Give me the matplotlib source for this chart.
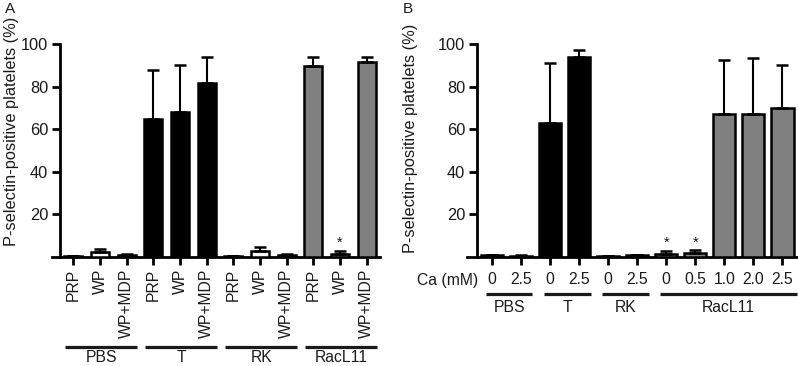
import numpy as np
import matplotlib.pyplot as plt
from matplotlib.transforms import blended_transform_factory

plt.rcParams['font.family'] = ['Liberation Sans', 'DejaVu Sans']
plt.rcParams['text.color'] = '#1a1a1a'

# panel A data
labels_a = ['PRP', 'WP', 'WP+MDP'] * 4
means_a = [0.3, 2.3, 1.0, 65, 68, 81.5, 0.3, 3.0, 1.0, 89.5, 1.5, 91.5]
errs_a = [0.0, 1.5, 0.6, 23, 22, 12.3, 0.0, 1.7, 0.6, 4.5, 1.5, 2.5]
groups_a = ['PBS', 'T', 'RK', 'RacL11']
group_idx_a = [(0, 2), (3, 5), (6, 8), (9, 11)]
colors_a = ['white'] * 3 + ['black'] * 3 + ['white'] * 3 + ['#808080'] * 3
stars_a = [10]

# panel B data
labels_b = ['0', '2.5', '0', '2.5', '0', '2.5', '0', '0.5', '1.0', '2.0', '2.5']
means_b = [0.8, 0.6, 62.9, 94, 0.4, 0.8, 1.5, 1.8, 67.1, 67.1, 70]
errs_b = [0.3, 0.2, 28.2, 3.4, 0.2, 0.3, 1.5, 1.5, 25.4, 26.4, 20]
groups_b = ['PBS', 'T', 'RK', 'RacL11']
group_idx_b = [(0, 1), (2, 3), (4, 5), (6, 10)]
colors_b = ['white'] * 2 + ['black'] * 2 + ['white'] * 2 + ['#808080'] * 5
stars_b = [6, 7]

FS = 11.8

fig = plt.figure(figsize=(7.98, 3.66), dpi=100)
axA = fig.add_axes([52 / 798, 1 - 257 / 366, 328 / 798, 213 / 366])
axB = fig.add_axes([466.7 / 798, 1 - 257 / 366, 330.3 / 798, 213 / 366])


def style(ax, xlim):
    ax.set_xlim(*xlim)
    ax.set_ylim(0, 100)
    ax.spines['top'].set_visible(False)
    ax.spines['right'].set_visible(False)
    ax.spines['left'].set_position(('data', -0.5))
    ax.spines['left'].set_linewidth(2)
    ax.spines['bottom'].set_linewidth(2)
    ax.set_yticks([20, 40, 60, 80, 100])
    ax.tick_params(axis='both', width=2, length=5.5, labelsize=FS, color='black',
                   labelcolor='#1a1a1a')
    ax.tick_params(axis='y', pad=3)


def draw(ax, means, errs, colors, width, stars):
    x = np.arange(len(means))
    ax.bar(x, means, width=width, color=colors, edgecolor='black', linewidth=1.8, zorder=3)
    ax.errorbar(x, means, yerr=[np.zeros(len(errs)), errs], fmt='none', ecolor='black',
                elinewidth=1.5, capsize=4.3, capthick=1.8, zorder=4)
    for s in stars:
        ax.text(s, 6.5, '*', ha='center', va='center', fontsize=10.5)


# panel A
style(axA, (-0.8, 11.5))
draw(axA, means_a, errs_a, colors_a, 0.68, stars_a)
axA.set_xticks(np.arange(len(labels_a)))
axA.set_xticklabels(labels_a, rotation=90, va='top', fontsize=11.3)
axA.tick_params(axis='x', pad=3)
trA = blended_transform_factory(axA.transData, axA.transAxes)
for name, (i0, i1) in zip(groups_a, group_idx_a):
    axA.plot([i0 - 0.3, i1 + 0.4], [-0.421, -0.421], color='#1a1a1a', lw=2.3,
             transform=trA, clip_on=False, solid_capstyle='butt')
    axA.text((i0 + i1) / 2 + 0.05, -0.474, name, ha='center', va='center',
             fontsize=11.3, transform=trA)

# panel B
style(axB, (-0.86, 10.5))
draw(axB, means_b, errs_b, colors_b, 0.76, stars_b)
axB.set_xticks(np.arange(len(labels_b)))
axB.set_xticklabels(labels_b, fontsize=11.3)
axB.tick_params(axis='x', pad=5)
trB = blended_transform_factory(axB.transData, axB.transAxes)
axB.text(-0.47, -0.108, 'Ca (mM)', ha='right', va='center', fontsize=11.3, transform=trB)
for name, (i0, i1) in zip(groups_b, group_idx_b):
    end = i1 + 0.5 if i1 == len(labels_b) - 1 else i1 + 0.4
    axB.plot([i0 - 0.2, end], [-0.174, -0.174], color='#1a1a1a', lw=2.3,
             transform=trB, clip_on=False, solid_capstyle='butt')
    axB.text((i0 - 0.2 + end) / 2, -0.239, name, ha='center', va='center',
             fontsize=11.3, transform=trB)

ylab = 'P-selectin-positive platelets (%)'
fig.text(12 / 798, 1 - 131 / 366, ylab, rotation=90, ha='center', va='center', fontsize=FS)
fig.text(411 / 798, 1 - 138 / 366, ylab, rotation=90, ha='center', va='center', fontsize=FS)
fig.text(5 / 798, 1 - 9 / 366, 'A', ha='left', va='center', fontsize=11)
fig.text(403 / 798, 1 - 9 / 366, 'B', ha='left', va='center', fontsize=11)

fig.savefig('out.png', dpi=100)
